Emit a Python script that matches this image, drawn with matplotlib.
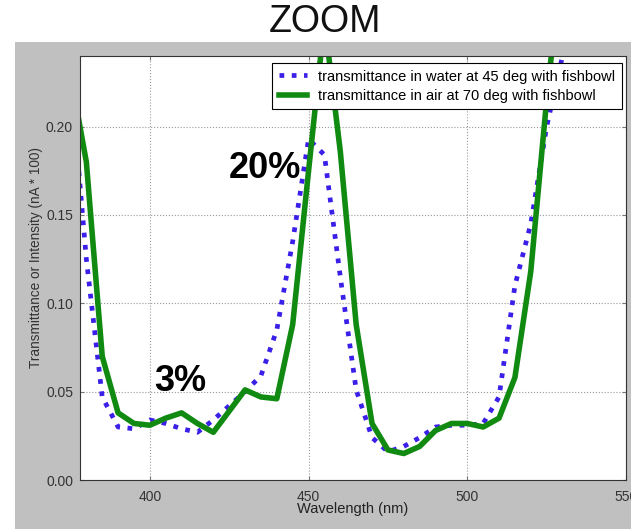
"""ZOOM: transmittance in water vs air with fishbowl, 375-535 nm."""
import numpy as np
import matplotlib
matplotlib.use("Agg")
import matplotlib.pyplot as plt
from matplotlib.patches import Rectangle

plt.rcParams["font.family"] = ["Liberation Sans", "DejaVu Sans"]

wavelength = [375, 380, 385, 390, 395, 400, 405, 410, 415, 420, 425, 430, 435, 440,
              445, 450, 455, 460, 465, 470, 475, 480, 485, 490, 495, 500, 505, 510,
              515, 520, 525, 530, 535]
water_45 = [0.23, 0.125, 0.047, 0.030, 0.029, 0.034, 0.032, 0.029, 0.027, 0.034, 0.042,
            0.050, 0.059, 0.085, 0.135, 0.193, 0.184, 0.115, 0.051, 0.024, 0.016, 0.019,
            0.024, 0.030, 0.031, 0.031, 0.032, 0.047, 0.110, 0.145, 0.200, 0.240, 0.280]
air_70 = [0.23, 0.18, 0.07, 0.038, 0.032, 0.031, 0.035, 0.038, 0.032, 0.027, 0.039,
          0.051, 0.047, 0.046, 0.088, 0.175, 0.26, 0.186, 0.088, 0.032, 0.017, 0.015,
          0.019, 0.028, 0.032, 0.032, 0.030, 0.035, 0.058, 0.118, 0.215, 0.30, 0.38]

W, H = 631, 529
fig = plt.figure(figsize=(W / 100, H / 100), dpi=100, facecolor="white")
# grey window background under the title
fig.patches.append(Rectangle((15 / W, 0), 1, (H - 42) / H, transform=fig.transFigure,
                             facecolor="#c0c0c0", edgecolor="none", zorder=-5))
fig.text(325 / W, 1 - 22 / H, "ZOOM", ha="center", va="center", fontsize=27, color="#111111")

ax = fig.add_axes([80 / W, (H - 480) / H, (626 - 80) / W, (480 - 56) / H])
ax.set_zorder(2)
ax.set_facecolor("white")
ax.plot(wavelength, water_45, color="#3a1fe8", lw=3.4, linestyle=(0, (1, 1.6)),
        dash_capstyle="butt", label="transmittance in water at 45 deg with fishbowl")
ax.plot(wavelength, air_70, color="#118a11", lw=4.0,
        label="transmittance in air at 70 deg with fishbowl")

ax.text(436.2, 0.1766, "20%", fontsize=26, fontweight="bold", ha="center", va="center")
ax.text(409.6, 0.056, "3%", fontsize=26, fontweight="bold", ha="center", va="center")

ax.set_xlim(378, 550)
ax.set_ylim(0, 0.24)
ax.set_xticks([400, 450, 500, 550])
ax.set_yticks([0.0, 0.05, 0.10, 0.15, 0.20])
ax.set_yticklabels(["0.00", "0.05", "0.10", "0.15", "0.20"])
ax.tick_params(direction="in", top=True, right=True, labelsize=10, labelcolor="#333333",
               length=3, color="#777777")
ax.tick_params(axis="x", pad=7)
ax.tick_params(axis="y", pad=5)
ax.grid(True, linestyle=":", color="#999999", lw=0.8)
ax.set_xlabel("Wavelength (nm)", fontsize=10.5, color="#222222", labelpad=-1)
ax.set_ylabel("Transmittance or Intensity (nA * 100)", fontsize=9.8, color="#333333")
ax.yaxis.set_label_coords(-0.068, 0.525)
for s in ax.spines.values():
    s.set_color("#333333")

leg = ax.legend(loc="upper right", fontsize=10.5, fancybox=False, framealpha=1,
                edgecolor="black", borderpad=0.45, handlelength=1.9, handletextpad=0.8,
                labelspacing=0.36, borderaxespad=0, bbox_to_anchor=(0.9927, 0.9835))
leg.get_frame().set_linewidth(0.8)

fig.savefig("out.png", dpi=100, facecolor=fig.get_facecolor())
